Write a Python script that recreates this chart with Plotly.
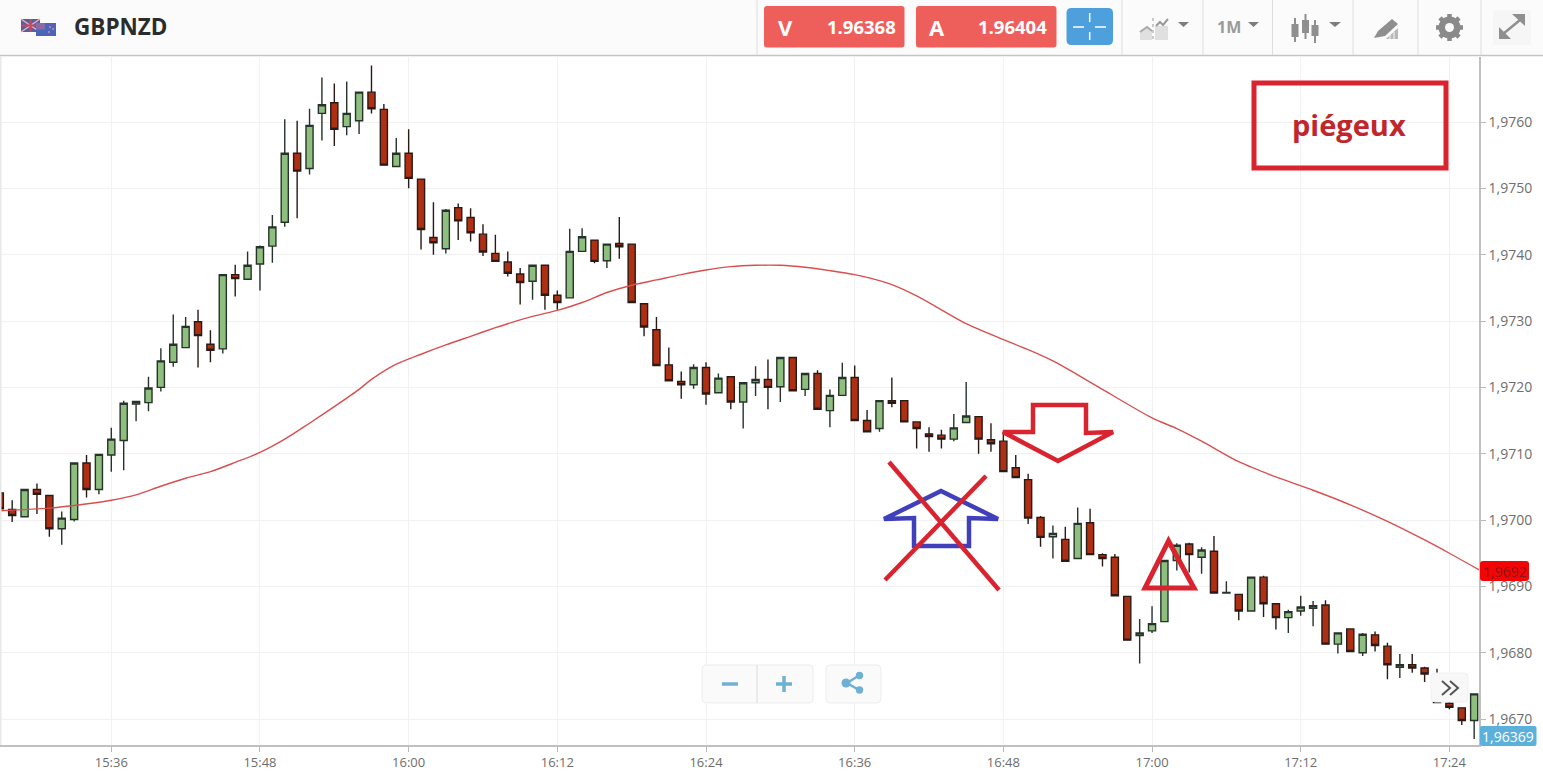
import math
import pandas as pd
import plotly.graph_objects as go

START = "2017-01-02 15:27:00"
COUNT = 120
opens = [1.97041,1.97016,1.97005,1.97046,1.97037,1.96987,1.97001,1.97086,1.97046,1.97098,
1.97120,1.97175,1.97177,1.97200,1.97238,1.97260,1.97299,1.97265,1.97258,1.97370,
1.97363,1.97386,1.97413,1.97449,1.97553,1.97530,1.97613,1.97629,1.97593,1.97602,
1.97645,1.97619,1.97533,1.97553,1.97514,1.97426,1.97409,1.97471,1.97456,1.97431,
1.97402,1.97389,1.97371,1.97360,1.97384,1.97339,1.97335,1.97405,1.97422,1.97391,
1.97417,1.97416,1.97326,1.97287,1.97234,1.97209,1.97204,1.97230,1.97192,1.97216,
1.97178,1.97207,1.97212,1.97201,1.97245,1.97197,1.97221,1.97165,1.97188,1.97215,
1.97150,1.97138,1.97180,1.97180,1.97148,1.97130,1.97128,1.97122,1.97147,1.97156,
1.97121,1.97119,1.97079,1.97061,1.97004,1.96975,1.96971,1.96942,1.96996,1.96948,
1.96944,1.96885,1.96826,1.96833,1.96847,1.96939,1.96964,1.96944,1.96953,1.96890,
1.96888,1.96863,1.96914,1.96874,1.96853,1.96863,1.96867,1.96872,1.96813,1.96836,
1.96800,1.96827,1.96810,1.96778,1.96782,1.96777,1.96760,1.96724,1.96717,1.96698]
highs = [1.97053,1.97030,1.97046,1.97055,1.97037,1.97013,1.97086,1.97098,1.97099,1.97139,
1.97180,1.97180,1.97216,1.97259,1.97310,1.97306,1.97317,1.97286,1.97370,1.97385,
1.97405,1.97414,1.97460,1.97604,1.97602,1.97620,1.97667,1.97658,1.97661,1.97645,
1.97685,1.97627,1.97576,1.97589,1.97514,1.97479,1.97469,1.97477,1.97470,1.97446,
1.97430,1.97405,1.97380,1.97385,1.97384,1.97346,1.97439,1.97440,1.97422,1.97416,
1.97457,1.97416,1.97326,1.97306,1.97260,1.97224,1.97235,1.97238,1.97221,1.97216,
1.97207,1.97232,1.97242,1.97245,1.97245,1.97221,1.97226,1.97197,1.97237,1.97233,
1.97166,1.97180,1.97215,1.97180,1.97148,1.97140,1.97136,1.97160,1.97208,1.97156,
1.97146,1.97132,1.97098,1.97070,1.97006,1.96992,1.96990,1.97019,1.97017,1.96950,
1.96949,1.96885,1.96851,1.96870,1.96939,1.96965,1.96966,1.96959,1.96976,1.96908,
1.96888,1.96914,1.96916,1.96874,1.96865,1.96886,1.96878,1.96879,1.96830,1.96836,
1.96830,1.96832,1.96815,1.96798,1.96798,1.96779,1.96776,1.96726,1.96717,1.96738]
lows = [1.97016,1.96997,1.97004,1.97009,1.96975,1.96963,1.96998,1.97034,1.97039,1.97073,
1.97075,1.97149,1.97164,1.97194,1.97231,1.97259,1.97230,1.97238,1.97251,1.97337,
1.97363,1.97346,1.97388,1.97442,1.97455,1.97521,1.97572,1.97564,1.97580,1.97582,
1.97613,1.97534,1.97532,1.97500,1.97408,1.97400,1.97402,1.97422,1.97420,1.97398,
1.97390,1.97367,1.97325,1.97332,1.97317,1.97317,1.97335,1.97404,1.97387,1.97380,
1.97394,1.97328,1.97277,1.97232,1.97209,1.97183,1.97198,1.97174,1.97191,1.97167,
1.97138,1.97187,1.97167,1.97178,1.97194,1.97187,1.97167,1.97140,1.97188,1.97150,
1.97133,1.97133,1.97170,1.97148,1.97108,1.97103,1.97108,1.97119,1.97147,1.97100,
1.97103,1.97073,1.97064,1.96994,1.96960,1.96942,1.96938,1.96942,1.96948,1.96930,
1.96886,1.96819,1.96784,1.96830,1.96847,1.96924,1.96921,1.96919,1.96890,1.96889,
1.96849,1.96863,1.96854,1.96835,1.96830,1.96856,1.96840,1.96812,1.96799,1.96802,
1.96795,1.96802,1.96760,1.96762,1.96770,1.96756,1.96724,1.96715,1.96691,1.96670]
closes = [1.97017,1.97007,1.97046,1.97039,1.96987,1.97003,1.97086,1.97046,1.97099,1.97122,
1.97176,1.97179,1.97199,1.97240,1.97265,1.97292,1.97278,1.97256,1.97370,1.97364,
1.97384,1.97412,1.97442,1.97553,1.97526,1.97595,1.97626,1.97589,1.97613,1.97645,
1.97620,1.97535,1.97553,1.97515,1.97438,1.97418,1.97467,1.97451,1.97433,1.97404,
1.97390,1.97372,1.97358,1.97384,1.97339,1.97328,1.97405,1.97427,1.97390,1.97416,
1.97412,1.97328,1.97291,1.97233,1.97210,1.97204,1.97230,1.97190,1.97214,1.97178,
1.97207,1.97212,1.97200,1.97245,1.97195,1.97221,1.97167,1.97188,1.97215,1.97150,
1.97133,1.97180,1.97176,1.97148,1.97138,1.97126,1.97122,1.97139,1.97157,1.97122,
1.97115,1.97073,1.97064,1.97003,1.96974,1.96980,1.96938,1.96995,1.96948,1.96942,
1.96886,1.96819,1.96830,1.96844,1.96939,1.96962,1.96948,1.96955,1.96890,1.96891,
1.96863,1.96914,1.96874,1.96853,1.96862,1.96869,1.96871,1.96813,1.96830,1.96802,
1.96828,1.96811,1.96782,1.96782,1.96777,1.96768,1.96725,1.96718,1.96698,1.96738]

ma_minutes = [0,4,6,9,11,13,15,17,19,21,23,25,27,29,30,32,34,36,38,40,41,43,45,47,49,51,53,55,57,59,61,63,65,67,69,71,72,74,76,78,81,83,85,87,89,93,95,97,100,103,106,109,112,115,117,119.4]
ma_values = [1.97014,1.97018,1.97022,1.97030,1.97038,1.97051,1.97063,1.97073,1.97087,1.97102,1.97122,1.97146,1.97171,1.97197,1.97212,1.97235,1.97250,1.97264,1.97277,1.97290,1.97296,1.97307,1.97316,1.97328,1.97343,1.97354,1.97362,1.97370,1.97377,1.97382,1.97384,1.97384,1.97381,1.97376,1.97370,1.97361,1.97355,1.97338,1.97317,1.97296,1.97272,1.97257,1.97240,1.97219,1.97197,1.97154,1.97138,1.97119,1.97088,1.97065,1.97045,1.97023,1.96998,1.96970,1.96950,1.96925]

y_ticks = [1.9760,1.9750,1.9740,1.9730,1.9720,1.9710,1.9700,1.9690,1.9680,1.9670]
last_ma_label = "1,9692"
last_price_label = "1,96369"
symbol = "GBPNZD"
bid = "1.96368"
ask = "1.96404"
timeframe = "1M"
note = "piégeux"

times = pd.date_range(START, periods=COUNT, freq="min")
t0 = pd.Timestamp(START)
ma_times = [t0 + pd.Timedelta(minutes=m) for m in ma_minutes]

W, H = 1543, 779
PL, PR, PT, PB = 0, 1479, 57, 745
def X(px): return (px - PL) / (PR - PL)
def Y(py): return (PB - py) / (PB - PT)

shapes, notes = [], []
def poly(pts, fill=None, color=None, width=0, closed=True, dash=None):
    d = "M" + " L".join(f"{X(a):.5f},{Y(b):.5f}" for a, b in pts) + (" Z" if closed else "")
    line = dict(color=color or "rgba(0,0,0,0)", width=width)
    if dash: line["dash"] = dash
    shapes.append(dict(type="path", path=d, xref="paper", yref="paper", layer="above",
                       fillcolor=fill or "rgba(0,0,0,0)", line=line))
def rect(x0, y0, x1, y1, fill=None, color=None, width=0):
    shapes.append(dict(type="rect", x0=X(x0), x1=X(x1), y0=Y(y0), y1=Y(y1), xref="paper", yref="paper",
                       layer="above", fillcolor=fill or "rgba(0,0,0,0)",
                       line=dict(color=color or "rgba(0,0,0,0)", width=width)))
def rrect(x0, y0, x1, y1, r, fill, color=None, width=0):
    p = (f"M{X(x0+r):.5f},{Y(y0):.5f} L{X(x1-r):.5f},{Y(y0):.5f} Q{X(x1):.5f},{Y(y0):.5f} {X(x1):.5f},{Y(y0+r):.5f} "
         f"L{X(x1):.5f},{Y(y1-r):.5f} Q{X(x1):.5f},{Y(y1):.5f} {X(x1-r):.5f},{Y(y1):.5f} "
         f"L{X(x0+r):.5f},{Y(y1):.5f} Q{X(x0):.5f},{Y(y1):.5f} {X(x0):.5f},{Y(y1-r):.5f} "
         f"L{X(x0):.5f},{Y(y0+r):.5f} Q{X(x0):.5f},{Y(y0):.5f} {X(x0+r):.5f},{Y(y0):.5f} Z")
    shapes.append(dict(type="path", path=p, xref="paper", yref="paper", layer="above", fillcolor=fill,
                       line=dict(color=color or "rgba(0,0,0,0)", width=width)))
def circle(cx, cy, r, fill):
    shapes.append(dict(type="circle", x0=X(cx-r), x1=X(cx+r), y0=Y(cy-r), y1=Y(cy+r), xref="paper", yref="paper",
                       layer="above", fillcolor=fill, line=dict(width=0, color="rgba(0,0,0,0)")))
def text(px, py, s, size, color, bold=False, family="Open Sans", anchor="center"):
    notes.append(dict(x=X(px), y=Y(py), xref="paper", yref="paper", text=f"<b>{s}</b>" if bold else s, showarrow=False,
                      xanchor=anchor, yanchor="middle", font=dict(family=family, size=size, color=color)))

# toolbar
rect(0, 0, W, 55.5, fill="#fbfbfb")
poly([(0, 55.5), (W, 55.5)], color="#c4c4c4", width=1.5, closed=False)
for sx in (757, 1122, 1203, 1272.5, 1353, 1418, 1481):
    poly([(sx, 0), (sx, 55)], color="#dedede", width=1, closed=False)
# flags
rect(21, 19, 40, 32, fill="#5a5f9a")
poly([(21, 19), (40, 32)], color="#e6b0c0", width=1.5, closed=False)
poly([(40, 19), (21, 32)], color="#e6b0c0", width=1.5, closed=False)
poly([(30.5, 19), (30.5, 32)], color="#c84860", width=2, closed=False)
poly([(21, 25.5), (40, 25.5)], color="#c84860", width=2, closed=False)
rect(36, 23, 56, 36, fill="#4a66b8")
rect(36, 23, 45, 29.5, fill="#8a6aa8")
for a, b in ((50, 27), (53, 29), (49, 32)):
    circle(a, b, 0.9, "#e88aa0")
text(71.5, 27, symbol, 22.5, "#2c2c2c", True, anchor="left")
# bid / ask
rrect(764, 6, 904.5, 47.5, 3, "#ee5f5b")
rrect(916, 6, 1056.5, 47.5, 3, "#ee5f5b")
text(785, 27, "V", 22, "#ffffff", True)
text(937, 27, "A", 22, "#ffffff", True)
text(861.5, 26.5, bid, 18.5, "#ffffff", True)
text(1012.5, 26.5, ask, 18.5, "#ffffff", True)
rrect(1066.5, 8, 1113, 45, 5, "#4da0dc")
for seg in (((1073, 27), (1084, 27)), ((1095, 27), (1106, 27)), ((1089.7, 13), (1089.7, 22)), ((1089.7, 32), (1089.7, 40))):
    poly(list(seg), color="#ffffff", width=1.5, closed=False)
# chart type icon
poly([(1140, 40), (1140, 32), (1147, 27), (1152, 31), (1152, 40)], fill="#e0e0e0")
rect(1155, 26, 1168, 40, fill="#e0e0e0")
poly([(1140, 32), (1147, 27), (1152, 31)], color="#aaaaaa", width=2, closed=False)
poly([(1156, 26), (1160, 22), (1163, 25), (1168, 19)], color="#999999", width=2, closed=False)
poly([(1153, 18), (1153, 41)], color="#999999", width=1, closed=False, dash="dot")
poly([(1178, 22), (1189, 22), (1183.5, 27)], fill="#7d7d7d")
text(1229, 27.5, timeframe, 16, "#9a9a9a", True)
poly([(1248, 22), (1259, 22), (1253.5, 27)], fill="#7d7d7d")
# candle icon
for cx, a, b, w0, w1 in ((1295, 24, 37, 18, 42), (1305.5, 20, 33, 14, 39), (1315, 25, 36, 20, 43)):
    poly([(cx, w0), (cx, w1)], color="#8f8f8f", width=2, closed=False)
    rect(cx - 3.5, a, cx + 3.5, b, fill="#8f8f8f")
poly([(1329, 22), (1341, 22), (1335, 27)], fill="#7d7d7d")
# pen icon
poly([(1374, 38), (1378, 31), (1392, 19), (1398, 24), (1385, 36)], fill="#8f8f8f")
poly([(1386, 39), (1398, 28), (1398, 39)], fill="#b8b8b8")
for sx in (1390, 1394):
    poly([(sx, 32), (sx, 39)], color="#fbfbfb", width=1, closed=False)
# gear icon
for k in range(8):
    a = k * math.pi / 4
    poly([(1449.5 + 8 * math.cos(a), 27.5 + 8 * math.sin(a)), (1449.5 + 13.5 * math.cos(a), 27.5 + 13.5 * math.sin(a))],
         color="#8a8a8a", width=4.5, closed=False)
circle(1449.5, 27.5, 11, "#8a8a8a")
circle(1449.5, 27.5, 4.5, "#fbfbfb")
# expand icon
rect(1493, 10, 1531, 45, fill="#f6f6f6")
poly([(1503, 34), (1520, 20)], color="#8f8f8f", width=2.5, closed=False)
poly([(1512, 14), (1525, 14), (1525, 26)], fill="#8f8f8f")
poly([(1499, 27), (1499, 39), (1511, 39)], fill="#8f8f8f")

# left edge
rect(0, 56, 1.5, PB, fill="#e8e8e8")

# overlay note
rect(1254, 83, 1446, 168, color="#d9232e", width=5)
text(1349, 125, note, 29, "#c0272d", True)

# drawn arrows
poly([(1003, 432), (1033, 432), (1033, 405), (1086, 405), (1086, 433), (1113, 432), (1058, 461)], color="#d9232e", width=4.5)
poly([(884, 519), (914, 518), (914, 546), (969, 546), (969, 518), (998, 519), (941, 491)], color="#4040bc", width=4.5)
poly([(889, 462), (999, 590)], color="#d9232e", width=4.5, closed=False)
poly([(885, 580), (986, 476)], color="#d9232e", width=4.5, closed=False)
poly([(1168.5, 541), (1145, 588), (1194, 588)], color="#d9232e", width=5)

# zoom controls
rrect(702, 665, 813, 703, 4, "#fafafa", "#ececec", 1)
poly([(757, 665), (757, 703)], color="#dcdcdc", width=1, closed=False)
rrect(826, 665, 881, 703, 4, "#fafafa", "#ececec", 1)
poly([(722, 684), (738, 684)], color="#6fb0d4", width=3.5, closed=False)
poly([(776, 684), (792, 684)], color="#6fb0d4", width=3.5, closed=False)
poly([(784, 676), (784, 692)], color="#6fb0d4", width=3.5, closed=False)
poly([(859, 675.5), (847, 683), (859, 690)], color="#6fb0d4", width=2.5, closed=False)
circle(846, 683, 4.5, "#6fb0d4")
circle(859.5, 675.5, 3.7, "#6fb0d4")
circle(859.5, 690, 3.7, "#6fb0d4")
# scroll button
rrect(1431, 673, 1468, 702, 4, "#f8f8f8", "#f0f0f0", 1)
poly([(1442, 681), (1450, 688), (1442, 695)], color="#555555", width=2, closed=False)
poly([(1450, 681), (1458, 688), (1450, 695)], color="#555555", width=2, closed=False)

# price badges
rrect(1480, 561, 1529, 581, 3, "#f40505")
text(1504.5, 571, last_ma_label, 14, "#8f1410")
rrect(1480, 726, 1536.5, 746, 2, "#5cb0dc")
text(1508, 736, last_price_label, 14, "#ffffff")

fig = go.Figure()
fig.add_trace(go.Candlestick(x=times, open=opens, high=highs, low=lows, close=closes,
                             increasing=dict(fillcolor="#8fbf7e", line=dict(color="#26332a", width=1.4)),
                             decreasing=dict(fillcolor="#ae2f12", line=dict(color="#2a1a16", width=1.4)),
                             whiskerwidth=0, showlegend=False))
fig.add_trace(go.Scatter(x=ma_times, y=ma_values, mode="lines", line=dict(color="#d84f4f", width=1.4, shape="spline", smoothing=0.8),
                         hoverinfo="skip", showlegend=False))

x_end = t0 + pd.Timedelta(minutes=119.39)
fig.update_layout(
    width=W, height=H, autosize=False,
    margin=dict(l=PL, r=W - PR, t=PT, b=H - PB, pad=0),
    paper_bgcolor="#ffffff", plot_bgcolor="#ffffff",
    separators=", ", boxgap=0.18,
    font=dict(family="Open Sans", size=13, color="#6e6e6e"),
    xaxis=dict(type="date", range=[t0 + pd.Timedelta(seconds=1), x_end], tickformat="%H:%M",
               tick0="2017-01-02 15:00:00", dtick=720000, showgrid=True, gridcolor="#f1f1f1", gridwidth=1,
               showline=True, linecolor="#c0c0c0", linewidth=1.5, ticks="outside", ticklen=5, tickcolor="#b8b8b8",
               rangeslider=dict(visible=False), zeroline=False, tickfont=dict(size=13, color="#6e6e6e")),
    yaxis=dict(side="right", range=[1.96661, 1.97698], tickvals=y_ticks, tickformat=".4f",
               showgrid=True, gridcolor="#f1f1f1", gridwidth=1, showline=True, linecolor="#c0c0c0", linewidth=1.5,
               ticks="outside", ticklen=5, tickcolor="#b8b8b8", zeroline=False, tickfont=dict(size=14, color="#6e6e6e")),
    shapes=shapes, annotations=notes, showlegend=False,
)
fig.write_html("out.html", config=dict(displayModeBar=False),
               post_script="document.body.style.margin='0';document.body.style.overflow='hidden';")
